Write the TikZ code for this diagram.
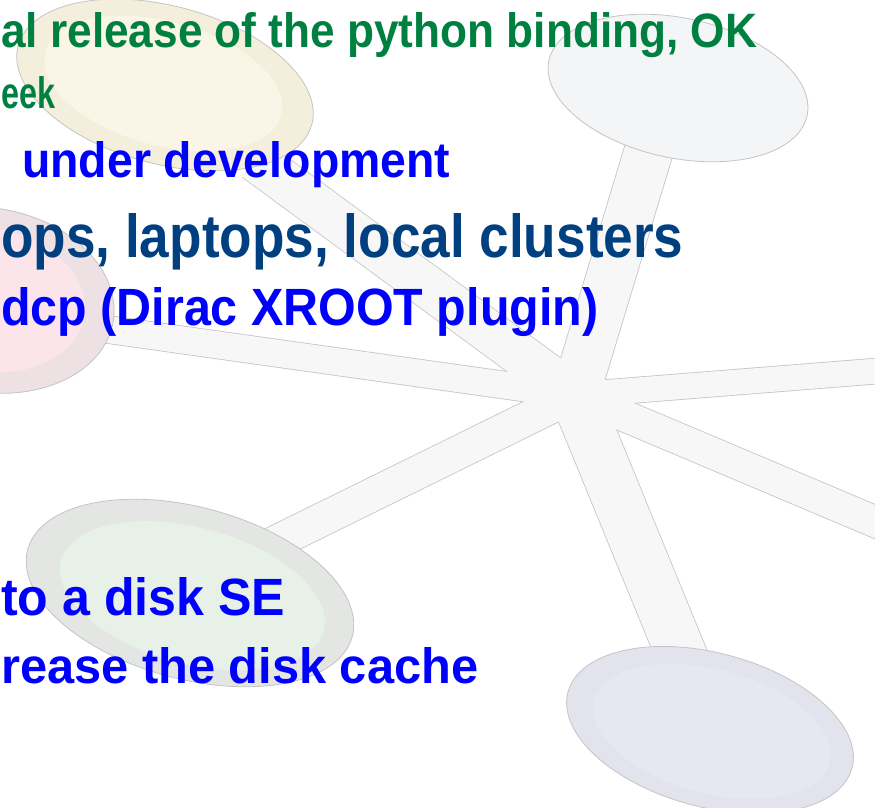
\documentclass[tikz,border=0pt]{standalone}
\usepackage{fontspec}
\setmainfont{Liberation Sans}
\usepackage{graphicx}
\usepackage{xcolor}
\usetikzlibrary{calc}

\definecolor{txtgreen}{HTML}{008040}
\definecolor{txtnavy}{HTML}{004080}
\definecolor{txtblue}{HTML}{0000FF}
\definecolor{rimgray}{HTML}{C4C4C4}
\definecolor{spokefill}{HTML}{F7F7F7}
\definecolor{creamout}{HTML}{F4EEDC}
\definecolor{creamin}{HTML}{FAF5E7}
\definecolor{greyout}{HTML}{F4F5F6}
\definecolor{pinkout}{HTML}{EDE1E4}
\definecolor{pinkin}{HTML}{FCE4EB}
\definecolor{mintout}{HTML}{E3E6E3}
\definecolor{mintin}{HTML}{E7F1E7}
\definecolor{lilacout}{HTML}{E3E3EE}
\definecolor{lilacin}{HTML}{E7E7F1}

% stretch a line of text to the measured width and height
\newcommand{\fitline}[3]{\resizebox{#1pt}{#2pt}{#3}}

\begin{document}
\begin{tikzpicture}[x=1pt,y=-1pt,
 rim/.style={draw=rimgray,line width=0.8pt},
 spkedge/.style={draw=rimgray,line width=#1+1.6pt},
 spkbody/.style={draw=spokefill,line width=#1},
 txt/.style={anchor=base west,inner sep=0pt,font=\bfseries}]
\useasboundingbox (0,0) rectangle (875,808);
\clip (0,0) rectangle (875,808);

% spokes of the star
\coordinate (hub) at (575,395);
\coordinate (tr) at (652,140);
\coordinate (tl) at (255,160);
\coordinate (lf) at (90,327);
\coordinate (rt) at (890,370);
\coordinate (br) at (890,528);
\coordinate (dn) at (700,700);
\coordinate (dl) at (260,550);
\foreach \e/\w in {tr/48,tl/42,lf/27,rt/25,br/31,dn/50,dl/33}
  \draw[spkedge=\w pt] (hub) -- (\e);
\foreach \e/\w in {tr/48,tl/42,lf/27,rt/25,br/31,dn/50,dl/33}
  \draw[spkbody=\w pt] (hub) -- (\e);
\fill[spokefill] (hub) circle (18);

% blobs at the spoke ends
\begin{scope}[rotate around={-15:(165,85)}]
 \filldraw[rim,fill=creamout] (165,85) ellipse (152 and 79);
 \fill[creamin] (163,84) ellipse (122 and 62);
\end{scope}
\begin{scope}[rotate around={-12:(678,88)}]
 \filldraw[rim,fill=greyout] (678,88) ellipse (132 and 70);
\end{scope}
\begin{scope}[rotate around={-10:(-12,300)}]
 \filldraw[rim,fill=pinkout] (-12,300) ellipse (127 and 92);
 \fill[pinkin] (-16,300) ellipse (102 and 72);
\end{scope}
\begin{scope}[rotate around={-15:(190,593)}]
 \filldraw[rim,fill=mintout] (190,593) ellipse (168 and 86);
 \fill[mintin] (193,595) ellipse (136 and 68);
\end{scope}
\begin{scope}[rotate around={-15:(710,730)}]
 \filldraw[rim,fill=lilacout] (710,730) ellipse (147 and 77);
 \fill[lilacin] (712,731) ellipse (122 and 62);
\end{scope}

% text lines
\node[txt,text=txtgreen] (python) at (1,48) {\fitline{756}{35}{al release of the python binding, OK}};
\node[txt,text=txtgreen] (week) at (1,108) {\fitline{54}{32}{eek}};
\node[txt,text=txtblue] (devel) at (22,177) {\fitline{428}{36}{under development}};
\node[txt,text=txtnavy] (laptops) at (1,257) {\fitline{682}{44}{ops, laptops, local clusters}};
\node[txt,text=txtblue] (plugin) at (1,325) {\fitline{597}{38}{dcp (Dirac XROOT plugin)}};
\node[txt,text=txtblue] (disk) at (1,615) {\fitline{284}{38}{to a disk SE}};
\node[txt,text=txtblue] (cache) at (1,683) {\fitline{477}{36}{rease the disk cache}};
\end{tikzpicture}
\end{document}
